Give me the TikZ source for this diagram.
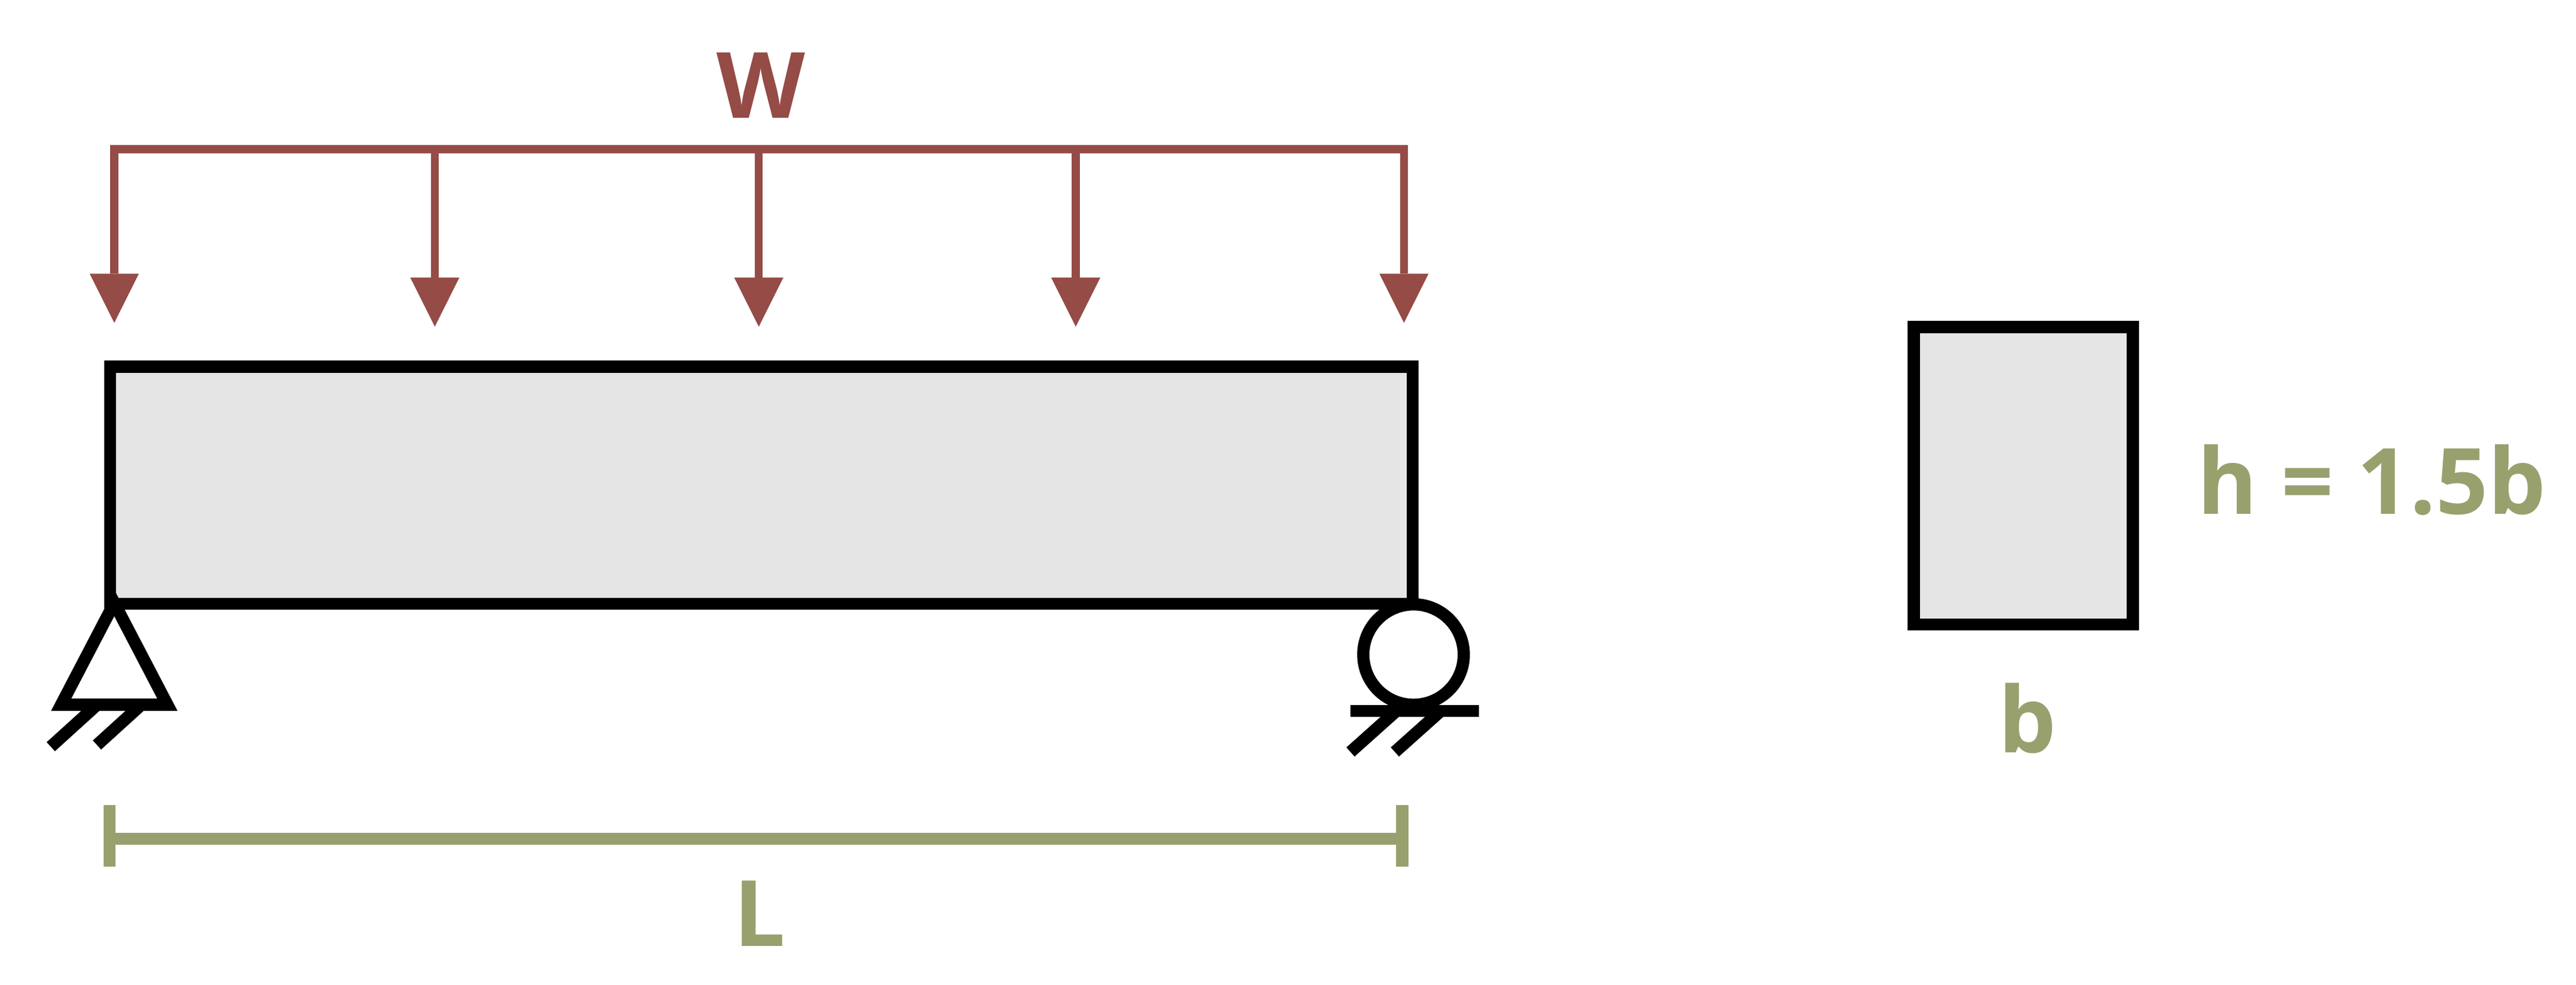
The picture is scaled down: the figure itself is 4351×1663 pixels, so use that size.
\documentclass[tikz,border=0pt]{standalone}
\usepackage{fontspec}
\setmainfont{Open Sans}
\usetikzlibrary{arrows.meta}
\definecolor{loadred}{RGB}{149,75,70}
\definecolor{sizegreen}{RGB}{152,161,110}
\definecolor{beamgrey}{RGB}{229,229,229}
\tikzset{
  memberline/.style={line width=0.207cm, draw=black},
  loadarrow/.style={draw=loadred, line width=0.135cm, -{Triangle[length=0.83cm,width=0.83cm,line width=0pt]}},
  sizeline/.style={draw=sizegreen, line width=0.207cm},
  loadlabel/.style={text=loadred, font=\fontsize{44}{50}\selectfont\bfseries, inner sep=0pt, anchor=base},
  sizelabel/.style={text=sizegreen, font=\fontsize{44}{50}\selectfont\bfseries, inner sep=0pt, anchor=base}
}

\begin{document}
\begin{tikzpicture}[x=0.01cm, y=-0.01cm]
    \useasboundingbox (0,0) rectangle (4351,1663);
    % uniform load
    \node[loadlabel] (wlabel) at (1285.5,199) {W};
    \coordinate (railstart) at (186.2,252);
    \coordinate (railend) at (2378,252);
    \draw[draw=loadred, line width=0.14cm] (railstart) -- (railend);
    \foreach \i/\x/\y in {1/193/545.4, 2/734.4/551.8, 3/1281.6/551.8, 4/1817/551.8, 5/2371.3/545.4}{
      \coordinate (rail\i) at (\x,245);
      \coordinate (tip\i) at (\x,\y);
      \draw[loadarrow] (rail\i) -- (tip\i);
    };
    % beam
    \draw[memberline, fill=beamgrey] (186,619.8) rectangle (2386,1020);
    % pin support
    \coordinate (pintop) at (193,1018.6);
    \coordinate (pinleft) at (103.3,1190.5);
    \coordinate (pinright) at (282.7,1190.5);
    \draw[memberline, fill=white] (pintop) -- (pinleft) -- (pinright) -- cycle;
    \foreach \a/\b/\c/\d in {85.8/1261.4/164/1190.5, 163.8/1258.5/238.7/1190.5}
      \draw[memberline] (\a,\b) -- (\c,\d);
    % roller support
    \draw[memberline, fill=white] (2387.5,1105.8) circle[radius=0.848cm];
    \coordinate (groundleft) at (2281,1201);
    \coordinate (groundright) at (2497.7,1201);
    \draw[memberline] (groundleft) -- (groundright);
    \foreach \a/\b/\c/\d in {2281/1270.3/2358.5/1201, 2356/1270.3/2433.5/1201}
      \draw[memberline] (\a,\b) -- (\c,\d);
    % span
    \coordinate (spanleft) at (185,1417);
    \coordinate (spanright) at (2368.3,1417);
    \draw[sizeline] (spanleft) -- (spanright);
    \draw[sizeline] (185,1360) -- (185,1463.7);
    \draw[sizeline] (2368.3,1360) -- (2368.3,1463.7);
    \node[sizelabel] (llabel) at (1283,1598.7) {L};
    % cross section
    \draw[memberline, fill=beamgrey] (3232.7,552.3) rectangle (3602.7,1055);
    \node[sizelabel] (hlabel) at (4006,868.4) {h = 1.5b};
    \node[sizelabel] (blabel) at (3424,1271) {b};
  \end{tikzpicture}
\end{document}
